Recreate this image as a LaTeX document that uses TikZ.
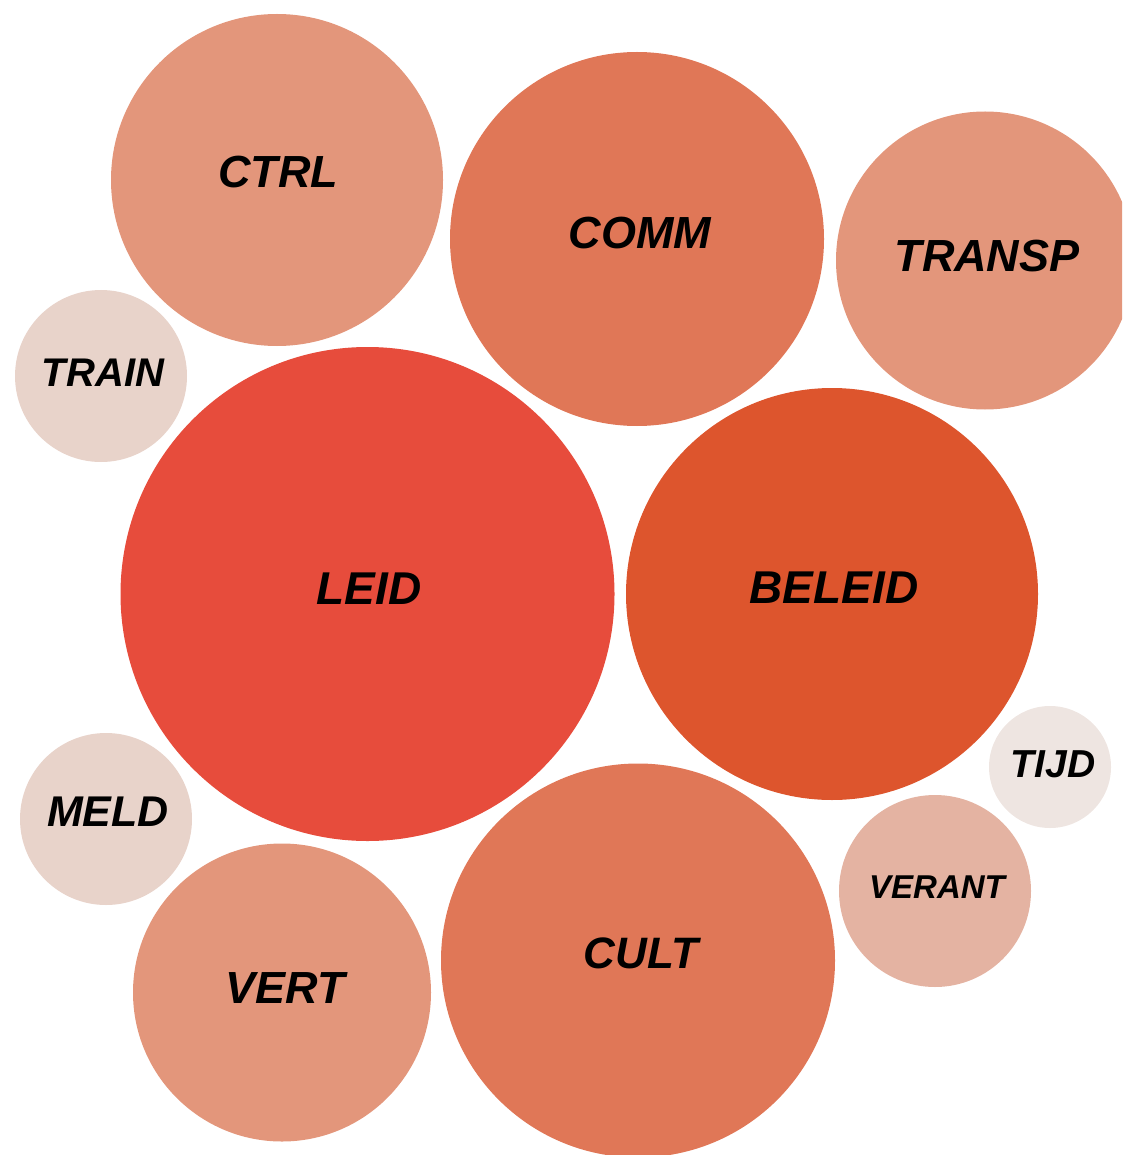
\documentclass[tikz,border=0pt]{standalone}
\usepackage{fontspec}
\setmainfont{Liberation Sans}
\definecolor{cmid}{HTML}{E3967B}
\definecolor{cstrong}{HTML}{E07757}
\definecolor{cleid}{HTML}{E74C3C}
\definecolor{cbeleid}{HTML}{DD552D}
\definecolor{clight}{HTML}{E8D3CA}
\definecolor{cpale}{HTML}{EEE5E1}
\definecolor{cverant}{HTML}{E4B3A2}
\tikzset{
  bubble/.style={circle, draw=none, inner sep=0pt, minimum size=#1},
  lbl/.style={anchor=base, inner sep=0pt, text=black, font=\bfseries\itshape\fontsize{#1}{#1}\selectfont}
}
\begin{document}
\begin{tikzpicture}[x=1pt, y=-1pt]
\useasboundingbox (0,0) rectangle (1122,1155);
\clip (0,0) rectangle (1122,1155);
\node[bubble=332pt, fill=cmid] (ctrl) at (277,180) {};
\node[bubble=374pt, fill=cstrong] (comm) at (637,239) {};
\node[bubble=298pt, fill=cmid] (transp) at (985,260.5) {};
\node[bubble=172pt, fill=clight] (train) at (101,376) {};
\node[bubble=494pt, fill=cleid] (leid) at (367.5,594) {};
\node[bubble=412pt, fill=cbeleid] (beleid) at (832,594) {};
\node[bubble=122pt, fill=cpale] (tijd) at (1050,767) {};
\node[bubble=172pt, fill=clight] (meld) at (106,819) {};
\node[bubble=192pt, fill=cverant] (verant) at (935,891) {};
\node[bubble=298pt, fill=cmid] (vert) at (282,992.5) {};
\node[bubble=394pt, fill=cstrong] (cult) at (638,960.5) {};
\node[lbl=45pt] (ctrlt) at (278,188) {CTRL};
\node[lbl=45pt] (commt) at (640,249) {COMM};
\node[lbl=45pt] (transpt) at (987,272) {TRANSP};
\node[lbl=40pt] (traint) at (103,386) {TRAIN};
\node[lbl=46pt] (leidt) at (369,604) {LEID};
\node[lbl=46pt] (beleidt) at (834,603) {BELEID};
\node[lbl=39pt] (tijdt) at (1053,777) {TIJD};
\node[lbl=43pt] (meldt) at (108,826) {MELD};
\node[lbl=33pt] (verantt) at (937,898) {VERANT};
\node[lbl=45pt] (vertt) at (285,1003) {VERT};
\node[lbl=44pt] (cultt) at (641,968) {CULT};
\end{tikzpicture}
\end{document}
